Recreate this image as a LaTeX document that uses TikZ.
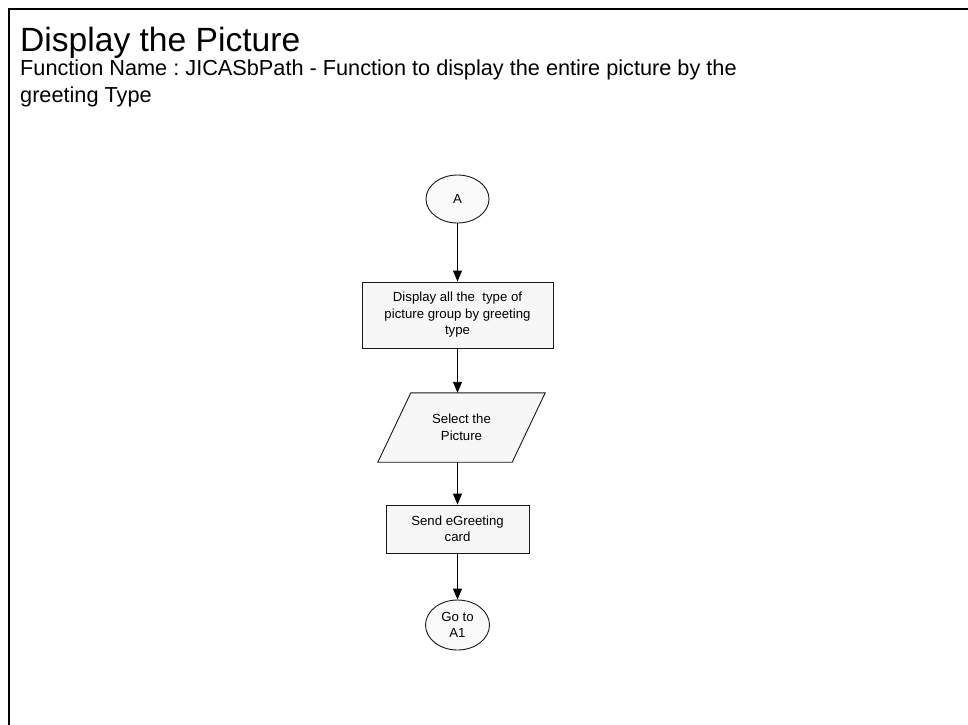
\documentclass[tikz,border=0pt]{standalone}
\usepackage{fontspec}
\setmainfont{Liberation Sans}
\usetikzlibrary{arrows.meta,shapes.geometric}
\frenchspacing
\tikzset{
  flowtext/.style={font=\fontsize{13.2}{16.5}\selectfont, align=center, inner sep=0pt},
  procbox/.style={flowtext, draw=black!90, line width=0.9pt, fill=black!3, rectangle},
  connbox/.style={flowtext, draw=black!90, line width=0.9pt, fill=black!2, ellipse},
  flowarrow/.style={draw=black, line width=0.9pt, -{Triangle[length=11pt,width=9pt]}},
  framebox/.style={draw=black, line width=2pt}
}
\begin{document}
\begin{tikzpicture}[x=1pt,y=-1pt]
\useasboundingbox (0,0) rectangle (968,724);
\draw[framebox] (9,740) -- (9,9) -- (980,9);
\node[anchor=base west, inner sep=0pt, font=\fontsize{33.6}{40}\selectfont] (title) at (20,51) {Display the Picture};
\node[anchor=base west, inner sep=0pt, font=\fontsize{21.7}{27}\selectfont] (fn1) at (20,75) {Function Name : JICASbPath - Function to display the entire picture by the};
\node[anchor=base west, inner sep=0pt, font=\fontsize{21.7}{27}\selectfont] (fn2) at (20,102) {greeting Type};

\node[connbox, minimum width=63, minimum height=48] (a) at (457.5,199) {A};
\node[procbox, minimum width=191, minimum height=66] (disp) at (457.5,315) {Display all the~ type of\\picture group by greeting\\type};
\node[flowtext, minimum width=167, minimum height=69] (sel) at (461.5,427.5) {};
\draw[draw=black!90, line width=0.9pt, fill=black!3]
  (sel.south west) -- ([xshift=-33]sel.south east) -- (sel.north east) -- ([xshift=33]sel.north west) -- cycle;
\node[flowtext] (seltext) at (sel.center) {Select the\\Picture};
\node[procbox, minimum width=143, minimum height=48] (send) at (457.5,529) {Send eGreeting\\card};
\node[connbox, minimum width=64, minimum height=50] (goto) at (457.5,625) {Go to\\A1};

\draw[flowarrow] (a.south) -- (disp.north);
\draw[flowarrow] (disp.south) -- (disp.south |- sel.north);
\draw[flowarrow] (sel.south -| send.north) -- (send.north);
\draw[flowarrow] (send.south) -- (goto.north);
\end{tikzpicture}
\end{document}
